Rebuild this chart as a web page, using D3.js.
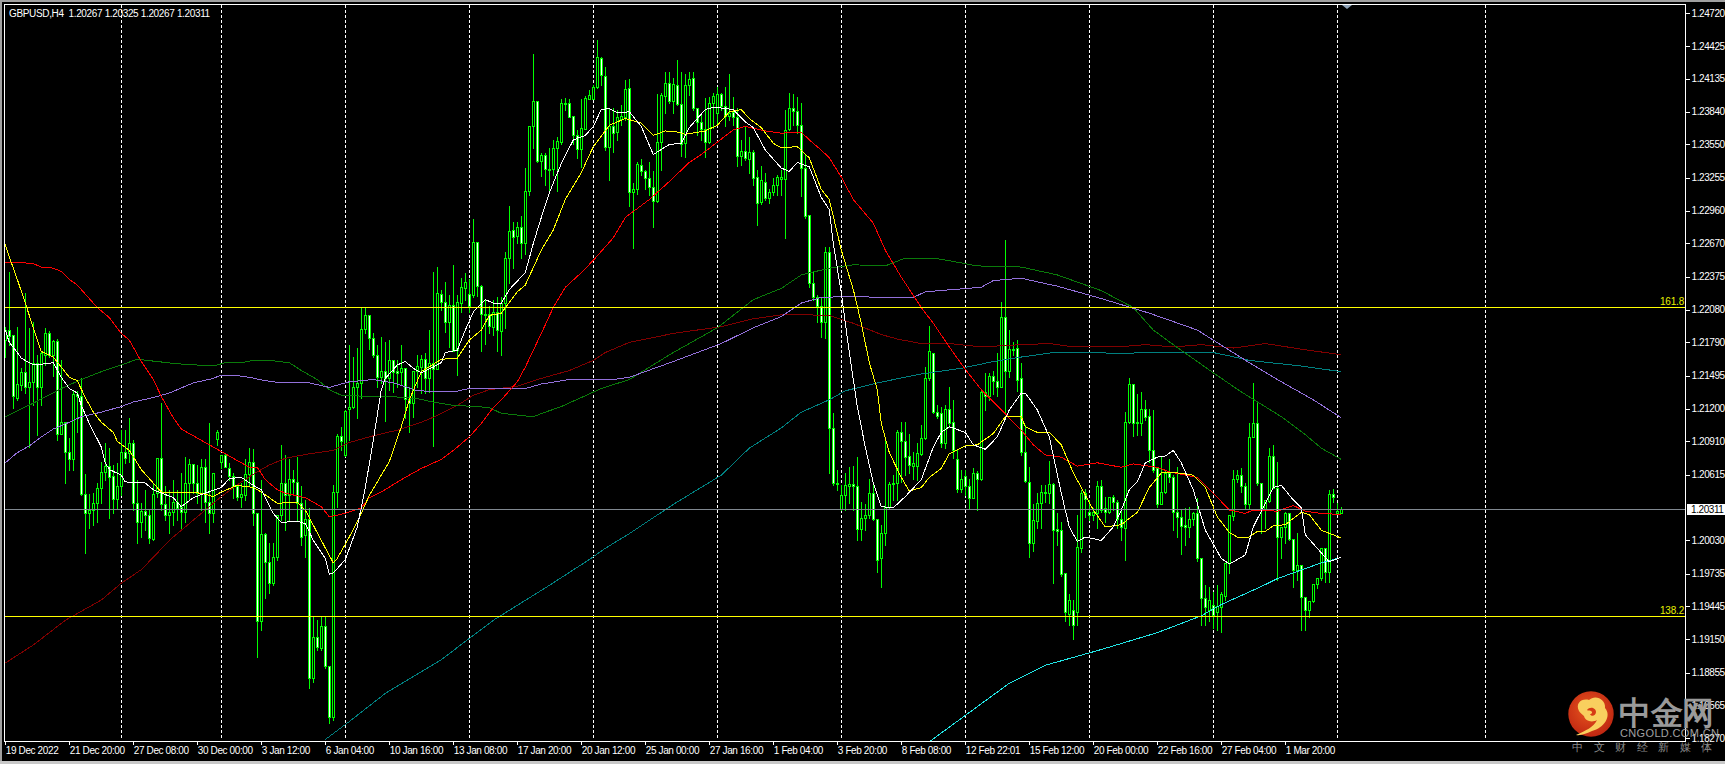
<!DOCTYPE html>
<html><head><meta charset="utf-8">
<script src="https://cdn.jsdelivr.net/npm/d3@7/dist/d3.min.js"></script>
<style>html,body{margin:0;padding:0;background:#000;overflow:hidden}svg{display:block}
text{font-family:"Liberation Sans",Arial,sans-serif}</style></head><body>
<svg id="c" width="1725" height="764"></svg>
<script>
const symbolTitle="GBPUSD,H4  1.20267 1.20325 1.20267 1.20311";
const priceTicks=[1.24720,1.24425,1.24135,1.23840,1.23550,1.23255,1.22960,1.22670,1.22375,1.22080,1.21790,1.21495,1.21200,1.20910,1.20615,1.20030,1.19735,1.19445,1.19150,1.18855,1.18565,1.18270];
const dateLabels=["19 Dec 2022","21 Dec 20:00","27 Dec 08:00","30 Dec 00:00","3 Jan 12:00","6 Jan 04:00","10 Jan 16:00","13 Jan 08:00","17 Jan 20:00","20 Jan 12:00","25 Jan 00:00","27 Jan 16:00","1 Feb 04:00","3 Feb 20:00","8 Feb 08:00","12 Feb 22:01","15 Feb 12:00","20 Feb 00:00","22 Feb 16:00","27 Feb 04:00","1 Mar 20:00"];
const barsPerDateLabel=16;
const separatorBars=[29,54,85,116,147,178,209,240,271,302,333,370];
const lastPrice=1.20311, fib1618=1.22102, fib1382=1.19356;

const opens=[1.2181,1.2190,1.2186,1.2130,1.2141,1.2153,1.2139,1.2144,1.2161,1.2139,1.2168,1.2187,1.2168,1.2180,1.2098,1.2108,1.2082,1.2075,1.2133,1.2131,
1.2044,1.2027,1.2030,1.2036,1.2050,1.2064,1.2069,1.2060,1.2040,1.2051,1.2082,1.2081,1.2090,1.2036,1.2019,1.2029,1.2026,1.2004,1.2045,1.2076,
1.2035,1.2026,1.2028,1.2037,1.2033,1.2028,1.2054,1.2071,1.2054,1.2045,1.2068,1.2037,1.2027,1.2093,1.2073,1.2079,1.2067,1.2060,1.2051,1.2042,
1.2043,1.2062,1.2073,1.2027,1.1931,1.2009,1.1984,1.1965,1.1988,1.2026,1.2054,1.2043,1.2058,1.2055,1.2036,1.2008,1.2022,1.1881,1.1917,1.1907,
1.1927,1.1891,1.1846,1.2046,1.2096,1.2079,1.2120,1.2122,1.2139,1.2143,1.2191,1.2203,1.2183,1.2168,1.2148,1.2154,1.2147,1.2163,1.2154,1.2153,
1.2156,1.2129,1.2125,1.2154,1.2157,1.2164,1.2147,1.2161,1.2155,1.2222,1.2215,1.2197,1.2212,1.2172,1.2214,1.2227,1.2222,1.2221,1.2268,1.2229,
1.2204,1.2204,1.2193,1.2206,1.2189,1.2214,1.2254,1.2279,1.2274,1.2282,1.2267,1.2314,1.2371,1.2394,1.2340,1.2346,1.2333,1.2333,1.2352,1.2357,
1.2392,1.2392,1.2380,1.2363,1.2351,1.2369,1.2395,1.2395,1.2406,1.2432,1.2416,1.2353,1.2371,1.2366,1.2378,1.2379,1.2405,1.2313,1.2315,1.2337,
1.2331,1.2325,1.2317,1.2305,1.2357,1.2398,1.2410,1.2394,1.2408,1.2391,1.2356,1.2408,1.2414,1.2387,1.2375,1.2369,1.2357,1.2392,1.2383,1.2400,
1.2389,1.2380,1.2384,1.2379,1.2345,1.2349,1.2342,1.2348,1.2326,1.2304,1.2322,1.2307,1.2313,1.2319,1.2324,1.2324,1.2369,1.2387,1.2385,1.2372,
1.2334,1.2292,1.2232,1.2219,1.2211,1.2197,1.2259,1.2103,1.2054,1.2031,1.2043,1.2051,1.2053,1.2051,1.2013,1.2023,1.2026,1.2045,1.2022,1.1987,
1.2010,1.2033,1.2053,1.2054,1.2099,1.2091,1.2078,1.2069,1.2069,1.2080,1.2094,1.2147,1.2170,1.2117,1.2116,1.2090,1.2120,1.2108,1.2075,1.2049,
1.2060,1.2051,1.2041,1.2063,1.2058,1.2135,1.2131,1.2149,1.2145,1.2139,1.2202,1.2154,1.2173,1.2174,1.2147,1.2082,1.2055,1.2001,1.2020,1.2036,
1.2046,1.2045,1.2053,1.2013,1.2012,1.1974,1.1938,1.1941,1.1939,1.1996,1.2045,1.2028,1.2026,1.2027,1.2051,1.2032,1.2028,1.2042,1.2037,1.2022,
1.2014,1.2108,1.2142,1.2108,1.2107,1.2120,1.2114,1.2083,1.2067,1.2035,1.2046,1.2063,1.2059,1.2028,1.2024,1.2017,1.2015,1.2022,1.2027,1.1987,
1.1952,1.1941,1.1946,1.1939,1.1944,1.1954,1.1983,1.2025,1.2058,1.2061,1.2051,1.2035,1.2095,1.2107,1.2054,1.2031,1.2038,1.2078,1.2050,1.2006,
1.2015,1.2027,1.2004,1.1977,1.1981,1.1953,1.1941,1.1949,1.1964,1.1970,1.1996,1.1975,1.2044,1.2027,1.2027];
const highs=[1.2193,1.2242,1.2186,1.2193,1.2156,1.2223,1.2192,1.2197,1.2168,1.2171,1.2192,1.2189,1.2181,1.2182,1.2163,1.2108,1.2094,1.2137,1.2136,1.2147,
1.2062,1.2044,1.2045,1.2054,1.2073,1.2090,1.2085,1.2070,1.2072,1.2101,1.2101,1.2112,1.2092,1.2057,1.2036,1.2048,1.2030,1.2054,1.2076,1.2125,
1.2051,1.2048,1.2057,1.2048,1.2063,1.2077,1.2075,1.2071,1.2070,1.2075,1.2075,1.2107,1.2063,1.2101,1.2079,1.2081,1.2072,1.2063,1.2051,1.2054,
1.2075,1.2085,1.2084,1.2027,1.2057,1.2010,1.2001,1.2001,1.2026,1.2088,1.2079,1.2075,1.2066,1.2077,1.2051,1.2039,1.2032,1.1935,1.1932,1.1935,
1.1935,1.1891,1.2052,1.2098,1.2104,1.2119,1.2177,1.2166,1.2174,1.2210,1.2210,1.2203,1.2187,1.2177,1.2184,1.2179,1.2181,1.2163,1.2163,1.2177,
1.2156,1.2139,1.2154,1.2168,1.2168,1.2170,1.2190,1.2242,1.2246,1.2226,1.2233,1.2221,1.2248,1.2221,1.2236,1.2241,1.2235,1.2289,1.2268,1.2230,
1.2217,1.2211,1.2217,1.2219,1.2219,1.2259,1.2300,1.2286,1.2286,1.2291,1.2334,1.2371,1.2435,1.2394,1.2347,1.2347,1.2352,1.2359,1.2362,1.2395,
1.2396,1.2395,1.2380,1.2368,1.2395,1.2398,1.2403,1.2408,1.2448,1.2433,1.2424,1.2387,1.2387,1.2386,1.2390,1.2412,1.2413,1.2321,1.2339,1.2342,
1.2332,1.2339,1.2331,1.2400,1.2401,1.2419,1.2419,1.2414,1.2430,1.2419,1.2418,1.2419,1.2419,1.2387,1.2381,1.2396,1.2397,1.2401,1.2406,1.2401,
1.2406,1.2418,1.2397,1.2387,1.2359,1.2371,1.2362,1.2350,1.2332,1.2336,1.2330,1.2315,1.2325,1.2328,1.2332,1.2386,1.2401,1.2400,1.2397,1.2392,
1.2346,1.2292,1.2242,1.2221,1.2219,1.2264,1.2264,1.2116,1.2066,1.2052,1.2063,1.2068,1.2069,1.2077,1.2037,1.2035,1.2058,1.2055,1.2022,1.2017,
1.2093,1.2055,1.2061,1.2101,1.2108,1.2108,1.2098,1.2082,1.2090,1.2106,1.2157,1.2194,1.2170,1.2123,1.2122,1.2123,1.2139,1.2128,1.2083,1.2066,
1.2066,1.2058,1.2067,1.2065,1.2137,1.2152,1.2152,1.2154,1.2170,1.2215,1.2270,1.2190,1.2179,1.2181,1.2161,1.2106,1.2068,1.2035,1.2045,1.2052,
1.2052,1.2074,1.2054,1.2027,1.2019,1.1974,1.1955,1.1950,1.2026,1.2048,1.2049,1.2039,1.2032,1.2056,1.2057,1.2042,1.2042,1.2043,1.2039,1.2030,
1.2117,1.2147,1.2142,1.2133,1.2135,1.2128,1.2120,1.2119,1.2067,1.2077,1.2066,1.2075,1.2061,1.2068,1.2030,1.2032,1.2033,1.2028,1.2041,1.1987,
1.1963,1.1962,1.1957,1.1963,1.1957,1.1983,1.2026,1.2066,1.2066,1.2067,1.2054,1.2107,1.2143,1.2125,1.2054,1.2039,1.2085,1.2088,1.2073,1.2015,
1.2028,1.2027,1.2004,1.2010,1.1981,1.1953,1.1949,1.1964,1.1970,1.1996,1.1996,1.2048,1.2049,1.2036,1.2033];
const lows=[1.2166,1.2177,1.2121,1.2128,1.2137,1.2134,1.2086,1.2123,1.2097,1.2123,1.2159,1.2166,1.2149,1.2092,1.2098,1.2054,1.2066,1.2066,1.2099,1.2043,
1.1992,1.2014,1.2017,1.2019,1.2036,1.2057,1.2023,1.2027,1.2031,1.2043,1.2072,1.2073,1.2030,1.2001,1.2006,1.2012,1.2001,1.2003,1.2042,1.2030,
1.2021,1.2010,1.2017,1.2021,1.2014,1.2019,1.2039,1.2045,1.2036,1.2030,1.2019,1.2010,1.2019,1.2088,1.2067,1.2068,1.2057,1.2041,1.2039,1.2033,
1.2039,1.2051,1.2017,1.1899,1.1923,1.1952,1.1956,1.1963,1.1986,1.2021,1.2012,1.2021,1.2043,1.2021,1.1999,1.1988,1.1872,1.1877,1.1906,1.1906,
1.1890,1.1841,1.1843,1.2033,1.2083,1.2078,1.2092,1.2121,1.2112,1.2130,1.2187,1.2173,1.2166,1.2139,1.2143,1.2109,1.2137,1.2135,1.2139,1.2141,
1.2112,1.2099,1.2113,1.2139,1.2134,1.2134,1.2135,1.2087,1.2155,1.2208,1.2188,1.2175,1.2171,1.2150,1.2206,1.2217,1.2206,1.2219,1.2220,1.2171,
1.2178,1.2187,1.2186,1.2171,1.2168,1.2192,1.2232,1.2245,1.2267,1.2254,1.2258,1.2310,1.2352,1.2339,1.2327,1.2319,1.2312,1.2328,1.2314,1.2355,
1.2386,1.2379,1.2355,1.2343,1.2335,1.2369,1.2395,1.2395,1.2405,1.2408,1.2350,1.2323,1.2348,1.2359,1.2372,1.2377,1.2300,1.2263,1.2311,1.2328,
1.2315,1.2310,1.2282,1.2304,1.2332,1.2383,1.2392,1.2383,1.2390,1.2345,1.2344,1.2399,1.2386,1.2363,1.2359,1.2344,1.2356,1.2370,1.2372,1.2386,
1.2371,1.2377,1.2372,1.2336,1.2337,1.2341,1.2330,1.2319,1.2283,1.2302,1.2306,1.2303,1.2310,1.2310,1.2310,1.2272,1.2368,1.2372,1.2365,1.2309,
1.2290,1.2228,1.2217,1.2197,1.2184,1.2183,1.2063,1.2052,1.2048,1.2030,1.2030,1.2036,1.2030,1.2003,1.2003,1.2012,1.2023,1.2021,1.1975,1.1962,
1.1999,1.2032,1.2039,1.2039,1.2055,1.2061,1.2063,1.2058,1.2057,1.2079,1.2093,1.2146,1.2116,1.2112,1.2086,1.2085,1.2104,1.2076,1.2046,1.2046,
1.2043,1.2032,1.2041,1.2030,1.2057,1.2119,1.2128,1.2133,1.2131,1.2139,1.2116,1.2148,1.2168,1.2136,1.2079,1.2055,1.1988,1.1994,1.2014,1.2014,
1.2037,1.2036,1.1965,1.1999,1.1971,1.1931,1.1928,1.1915,1.1928,1.1993,1.2024,1.2021,1.2021,1.2014,1.2028,1.2019,1.2027,1.2030,1.2014,1.2003,
1.1986,1.2107,1.2096,1.2097,1.2097,1.2110,1.2073,1.2064,1.2033,1.2035,1.2045,1.2055,1.2012,1.2006,1.1991,1.1999,1.2006,1.2017,1.1985,1.1928,
1.1928,1.1931,1.1925,1.1923,1.1922,1.1950,1.1974,1.2021,1.2055,1.2046,1.2032,1.2032,1.2095,1.2052,1.2010,1.2014,1.2037,1.2050,1.1968,1.1987,
1.2001,1.2003,1.1962,1.1968,1.1923,1.1923,1.1935,1.1948,1.1961,1.1968,1.1966,1.1966,1.2037,1.2027,1.2027];
const closes=[1.2190,1.2185,1.2131,1.2142,1.2153,1.2139,1.2144,1.2161,1.2139,1.2170,1.2187,1.2168,1.2180,1.2098,1.2108,1.2082,1.2075,1.2133,1.2131,1.2044,
1.2027,1.2030,1.2036,1.2050,1.2064,1.2069,1.2059,1.2040,1.2051,1.2082,1.2076,1.2090,1.2036,1.2019,1.2029,1.2026,1.2005,1.2044,1.2076,1.2035,
1.2026,1.2028,1.2037,1.2032,1.2028,1.2054,1.2071,1.2054,1.2045,1.2068,1.2037,1.2027,1.2063,1.2099,1.2079,1.2068,1.2060,1.2051,1.2042,1.2044,
1.2062,1.2073,1.2027,1.1931,1.2009,1.1984,1.1965,1.1988,1.2026,1.2054,1.2043,1.2058,1.2055,1.2036,1.2006,1.2022,1.1881,1.1917,1.1908,1.1927,
1.1891,1.1846,1.2046,1.2096,1.2091,1.2118,1.2122,1.2139,1.2143,1.2191,1.2203,1.2183,1.2168,1.2148,1.2154,1.2147,1.2163,1.2153,1.2152,1.2156,
1.2129,1.2125,1.2154,1.2158,1.2164,1.2147,1.2161,1.2155,1.2223,1.2215,1.2197,1.2212,1.2171,1.2215,1.2228,1.2233,1.2211,1.2268,1.2229,1.2204,
1.2203,1.2194,1.2206,1.2190,1.2214,1.2254,1.2278,1.2273,1.2282,1.2267,1.2314,1.2371,1.2394,1.2340,1.2346,1.2333,1.2332,1.2352,1.2358,1.2392,
1.2391,1.2379,1.2363,1.2351,1.2370,1.2396,1.2399,1.2406,1.2433,1.2417,1.2353,1.2371,1.2365,1.2379,1.2380,1.2404,1.2313,1.2315,1.2338,1.2331,
1.2325,1.2317,1.2305,1.2357,1.2399,1.2410,1.2394,1.2409,1.2391,1.2355,1.2408,1.2413,1.2387,1.2375,1.2369,1.2357,1.2392,1.2398,1.2400,1.2389,
1.2380,1.2383,1.2379,1.2345,1.2349,1.2343,1.2348,1.2325,1.2303,1.2323,1.2307,1.2313,1.2319,1.2326,1.2326,1.2368,1.2387,1.2385,1.2372,1.2334,
1.2291,1.2232,1.2219,1.2211,1.2197,1.2259,1.2103,1.2054,1.2053,1.2043,1.2052,1.2053,1.2051,1.2013,1.2023,1.2026,1.2045,1.2022,1.1986,1.2010,
1.2033,1.2053,1.2054,1.2099,1.2091,1.2077,1.2070,1.2072,1.2081,1.2094,1.2147,1.2171,1.2117,1.2114,1.2090,1.2120,1.2107,1.2083,1.2049,1.2058,
1.2051,1.2041,1.2063,1.2058,1.2135,1.2131,1.2149,1.2145,1.2139,1.2202,1.2154,1.2173,1.2172,1.2146,1.2082,1.2056,1.2001,1.2021,1.2036,1.2046,
1.2045,1.2053,1.2012,1.2011,1.1973,1.1939,1.1950,1.1928,1.1997,1.2045,1.2040,1.2026,1.2028,1.2051,1.2030,1.2028,1.2042,1.2037,1.2022,1.2015,
1.2108,1.2142,1.2107,1.2107,1.2120,1.2113,1.2083,1.2066,1.2035,1.2046,1.2063,1.2059,1.2028,1.2024,1.2016,1.2015,1.2022,1.2027,1.1987,1.1952,
1.1944,1.1950,1.1937,1.1945,1.1955,1.1983,1.2026,1.2058,1.2061,1.2051,1.2035,1.2095,1.2107,1.2054,1.2031,1.2039,1.2078,1.2050,1.2006,1.2015,
1.2027,1.2004,1.1977,1.1981,1.1953,1.1941,1.1949,1.1964,1.1970,1.1996,1.1975,1.2044,1.2042,1.2029,1.2031];

const redBars=[0,4,7,9,12,14,16,18,21,23,26,29,31,34,37,39,42,44,49,54,57,61,63,65,68,70,75,79,81,85,89,91,94,99,104,109,112,116,119,122,124,128,130,134,137,140,144,147,152,155,161,166,171,174,178,182,185,190,194,199,201,204,206,209,212,217,220,224,229,232,236,240,244,249,254,257,260,264,268,273,279,282,288,291,298,302,306,310,312,318,322,325,329,334];
const redVals=[1.2250,1.2250,1.2249,1.2246,1.2245,1.2242,1.2235,1.2230,1.2218,1.2210,1.2201,1.2187,1.2181,1.2162,1.2146,1.2131,1.2112,1.2102,1.2092,1.2082,1.2076,1.2068,1.2068,1.2057,1.2048,1.2045,1.2041,1.2033,1.2024,1.2027,1.2032,1.2041,1.2046,1.2057,1.2067,1.2075,1.2083,1.2095,1.2107,1.2121,1.2128,1.2144,1.2157,1.2187,1.2210,1.2228,1.2241,1.2252,1.2272,1.2290,1.2306,1.2322,1.2339,1.2346,1.2357,1.2368,1.2371,1.2367,1.2365,1.2366,1.2359,1.2350,1.2343,1.2326,1.2306,1.2285,1.2261,1.2237,1.2210,1.2196,1.2175,1.2155,1.2137,1.2119,1.2101,1.2088,1.2079,1.2077,1.2069,1.2072,1.2068,1.2071,1.2068,1.2064,1.2059,1.2045,1.2030,1.2027,1.2030,1.2029,1.2034,1.2029,1.2027,1.2026];
const whiteBars=[0,1,3,4,7,10,12,14,16,18,19,21,24,25,26,29,30,35,37,42,44,47,50,54,56,59,62,64,67,69,73,75,77,80,81,82,85,88,90,92,94,95,98,100,102,104,109,110,113,115,117,120,122,124,126,130,132,134,136,139,142,145,147,149,151,153,156,159,162,166,169,171,175,177,180,182,185,187,190,194,196,198,201,204,206,207,209,211,213,215,217,219,222,225,229,232,234,236,240,242,245,248,251,254,255,258,261,264,266,268,270,274,277,279,281,283,285,288,290,292,294,297,300,304,306,310,312,315,317,319,322,324,325,329,331,334];
const whiteVals=[1.2190,1.2179,1.2170,1.2165,1.2159,1.2160,1.2161,1.2148,1.2138,1.2134,1.2123,1.2107,1.2086,1.2072,1.2066,1.2061,1.2055,1.2054,1.2048,1.2041,1.2033,1.2041,1.2045,1.2050,1.2058,1.2059,1.2052,1.2048,1.2027,1.2019,1.2020,1.2018,1.2003,1.1987,1.1973,1.1974,1.1986,1.2015,1.2050,1.2092,1.2137,1.2147,1.2159,1.2162,1.2156,1.2152,1.2161,1.2170,1.2172,1.2190,1.2206,1.2217,1.2214,1.2214,1.2226,1.2241,1.2267,1.2290,1.2312,1.2338,1.2359,1.2363,1.2371,1.2386,1.2387,1.2383,1.2384,1.2371,1.2346,1.2355,1.2356,1.2370,1.2386,1.2388,1.2387,1.2386,1.2375,1.2370,1.2350,1.2334,1.2331,1.2339,1.2335,1.2308,1.2297,1.2267,1.2223,1.2170,1.2122,1.2086,1.2054,1.2033,1.2032,1.2042,1.2057,1.2086,1.2099,1.2104,1.2099,1.2088,1.2084,1.2095,1.2119,1.2134,1.2134,1.2119,1.2095,1.2045,1.2015,1.2002,1.2006,1.2003,1.2015,1.2030,1.2048,1.2055,1.2072,1.2077,1.2078,1.2083,1.2072,1.2048,1.2012,1.1987,1.1982,1.1990,1.2015,1.2036,1.2050,1.2052,1.2039,1.2032,1.2008,1.1992,1.1984,1.1988];
const yellowBars=[0,1,3,5,7,9,12,14,16,18,20,22,24,27,28,31,34,37,39,44,49,52,54,58,62,64,68,73,75,79,82,83,86,89,91,96,99,101,104,109,113,116,119,121,124,128,130,134,137,140,144,147,151,155,159,162,165,168,170,175,178,181,184,186,189,192,194,198,201,204,206,209,212,214,216,218,219,221,224,226,229,231,234,236,240,243,247,250,254,255,258,261,264,267,269,272,275,279,283,286,289,293,297,300,303,306,308,311,313,315,317,320,324,326,329,332,334];
const yellowVals=[1.2266,1.2255,1.2235,1.2214,1.2192,1.2171,1.2166,1.2157,1.2148,1.2145,1.2130,1.2117,1.2108,1.2099,1.2091,1.2083,1.2066,1.2054,1.2046,1.2046,1.2045,1.2042,1.2046,1.2052,1.2050,1.2046,1.2036,1.2037,1.2030,1.2003,1.1983,1.1987,1.2006,1.2027,1.2043,1.2073,1.2104,1.2128,1.2153,1.2164,1.2165,1.2181,1.2190,1.2203,1.2205,1.2224,1.2230,1.2261,1.2279,1.2306,1.2330,1.2353,1.2372,1.2378,1.2374,1.2363,1.2367,1.2366,1.2364,1.2367,1.2372,1.2384,1.2386,1.2378,1.2370,1.2356,1.2352,1.2353,1.2343,1.2315,1.2306,1.2261,1.2226,1.2196,1.2161,1.2137,1.2107,1.2081,1.2059,1.2047,1.2050,1.2059,1.2067,1.2080,1.2087,1.2088,1.2098,1.2113,1.2113,1.2104,1.2099,1.2099,1.2088,1.2063,1.2050,1.2030,1.2015,1.2017,1.2028,1.2050,1.2063,1.2063,1.2061,1.2050,1.2024,1.2010,1.2006,1.2006,1.2011,1.2011,1.2016,1.2017,1.2028,1.2026,1.2012,1.2008,1.2005];
const greenBars=[0,7,14,19,24,29,33,38,43,52,55,59,62,66,71,74,78,81,84,91,96,103,107,112,118,121,124,129,132,135,139,144,149,156,167,178,187,194,199,206,212,220,225,232,237,243,254,263,274,282,287,292,302,309,319,325,329,334];
const greenVals=[1.2113,1.2125,1.2138,1.2146,1.2153,1.2159,1.2164,1.2162,1.2160,1.2158,1.2161,1.2161,1.2163,1.2163,1.2161,1.2154,1.2146,1.2137,1.2132,1.2131,1.2131,1.2129,1.2126,1.2123,1.2122,1.2121,1.2116,1.2114,1.2113,1.2117,1.2122,1.2130,1.2138,1.2146,1.2170,1.2192,1.2217,1.2227,1.2239,1.2245,1.2248,1.2247,1.2254,1.2254,1.2251,1.2247,1.2246,1.2239,1.2225,1.2210,1.2190,1.2177,1.2152,1.2135,1.2113,1.2097,1.2085,1.2075];
const purpleBars=[0,3,6,9,12,16,19,24,29,32,37,41,47,52,54,57,61,65,69,76,81,86,92,97,103,112,116,130,134,141,147,152,156,167,179,187,194,199,204,212,218,227,230,237,244,247,254,263,274,286,298,302,311,318,327,334];
const purpleVals=[1.2072,1.2081,1.2087,1.2095,1.2102,1.2108,1.2113,1.2117,1.2122,1.2126,1.2130,1.2134,1.2143,1.2147,1.2150,1.2150,1.2148,1.2145,1.2143,1.2143,1.2139,1.2144,1.2146,1.2143,1.2136,1.2135,1.2138,1.2138,1.2142,1.2146,1.2146,1.2146,1.2148,1.2162,1.2178,1.2192,1.2202,1.2214,1.2219,1.2220,1.2219,1.2219,1.2224,1.2226,1.2228,1.2234,1.2236,1.2229,1.2218,1.2205,1.2190,1.2181,1.2161,1.2146,1.2128,1.2112];
const maroonBars=[0,7,15,24,29,34,37,41,48,54,59,63,66,70,76,82,86,92,98,104,108,113,117,121,128,133,141,147,150,156,167,179,187,195,206,212,219,223,229,236,244,254,261,267,278,285,292,299,307,315,324,334];
const maroonVals=[1.1894,1.1910,1.1932,1.1950,1.1965,1.1977,1.1988,1.2003,1.2024,1.2042,1.2055,1.2064,1.2070,1.2076,1.2080,1.2083,1.2090,1.2096,1.2101,1.2108,1.2114,1.2123,1.2132,1.2137,1.2140,1.2146,1.2154,1.2163,1.2170,1.2179,1.2187,1.2193,1.2200,1.2204,1.2203,1.2196,1.2186,1.2182,1.2178,1.2178,1.2175,1.2177,1.2178,1.2175,1.2175,1.2177,1.2175,1.2177,1.2174,1.2178,1.2173,1.2168];
const tealBars=[80,86,95,109,122,136,146,150,156,167,179,186,194,199,206,210,218,229,239,247,254,262,274,277,286,294,302,306,311,324,334];
const tealVals=[1.1826,1.1842,1.1867,1.1897,1.1932,1.1963,1.1986,1.1996,1.2009,1.2035,1.2061,1.2085,1.2103,1.2117,1.2128,1.2136,1.2143,1.2151,1.2156,1.2162,1.2166,1.2170,1.2170,1.2169,1.2170,1.2170,1.2170,1.2167,1.2163,1.2158,1.2153];
const cyanBars=[231,246,251,260,274,288,299,304,314,318,325,329,334];
const cyanVals=[1.1824,1.1863,1.1876,1.1892,1.1906,1.1921,1.1936,1.1946,1.1962,1.1969,1.1978,1.1983,1.1988];

const W=1725,H=764, plotL=4.5, plotT=4.5, plotR=1685.5, plotB=741.5;
const svg=d3.select("#c");
const x=d3.scaleLinear().domain([0,1]).range([5.3,9.3]);
const y=d3.scaleLinear().domain([1.24720,1.18270]).range([12.8,738.4]);
const px=i=>Math.floor(x(i));
const py=v=>Math.round(y(v));

svg.append("rect").attr("width",W).attr("height",H).attr("fill","#000");
// window chrome
const chrome=svg.append("g").attr("fill","#a0a0a0");
chrome.append("rect").attr("width",W).attr("height",2);
chrome.append("rect").attr("width",2).attr("height",H);
chrome.append("rect").attr("y",761).attr("width",W).attr("height",3).attr("fill","#c8c8c8");

const defs=svg.append("defs");
defs.append("clipPath").attr("id","plot").append("rect").attr("x",plotL).attr("y",plotT).attr("width",plotR-plotL).attr("height",plotB-plotT);
const plot=svg.append("g").attr("clip-path","url(#plot)");

// period separators
plot.append("g").selectAll("line").data(separatorBars).join("line")
 .attr("x1",d=>px(d)+.5).attr("x2",d=>px(d)+.5).attr("y1",5).attr("y2",739)
 .attr("stroke","#fff").attr("stroke-dasharray","3,2").attr("shape-rendering","crispEdges");

// candles
const idx=d3.range(closes.length);
const cg=plot.append("g").attr("shape-rendering","crispEdges");
cg.selectAll("line").data(idx).join("line")
 .attr("x1",i=>px(i)+.5).attr("x2",i=>px(i)+.5)
 .attr("y1",i=>py(highs[i])).attr("y2",i=>py(lows[i])+1).attr("stroke","#00ff00");
cg.selectAll("rect").data(idx).join("rect")
 .attr("x",i=>px(i)-.5).attr("width",2)
 .attr("y",i=>py(Math.max(opens[i],closes[i]))+.5)
 .attr("height",i=>Math.max(1,py(Math.min(opens[i],closes[i]))-py(Math.max(opens[i],closes[i]))))
 .attr("fill",i=>closes[i]<opens[i]?"#fff":"#000").attr("stroke","#00ff00");

// moving averages
const mk=(bars,vals,color)=>{
 const line=d3.line().x((d,k)=>x(bars[k])).y(d=>y(d));
 plot.append("path").attr("d",line(vals)).attr("fill","none").attr("stroke",color).attr("stroke-width",1).attr("shape-rendering","crispEdges");
};
mk(maroonBars,maroonVals,"#800000");
mk(tealBars,tealVals,"#008080");
mk(cyanBars,cyanVals,"#22e6e6");
mk(greenBars,greenVals,"#0a7a0a");
mk(purpleBars,purpleVals,"#9370db");
mk(redBars,redVals,"#ff0000");
mk(yellowBars,yellowVals,"#ffff00");
mk(whiteBars,whiteVals,"#ffffff");

// horizontal objects
const hline=(v,color)=>plot.append("line").attr("x1",plotL).attr("x2",plotR).attr("y1",py(v)+.5).attr("y2",py(v)+.5).attr("stroke",color).attr("shape-rendering","crispEdges");
hline(lastPrice,"#808890");
hline(fib1618,"#ffff00");
hline(fib1382,"#ffff00");
const fibLabel=(v,t)=>svg.append("text").attr("x",1684).attr("y",py(v)-2.5).attr("text-anchor","end").attr("fill","#e6f000").attr("font-size",10).attr("letter-spacing",-.2).text(t);
fibLabel(fib1618,"161.8");
fibLabel(fib1382,"138.2");

// frame
svg.append("rect").attr("x",plotL).attr("y",plotT).attr("width",plotR-plotL).attr("height",plotB-plotT)
 .attr("fill","none").attr("stroke","#fff").attr("shape-rendering","crispEdges");

// axes
const yAxis=d3.axisRight(y).tickValues(priceTicks).tickFormat(d3.format(".5f")).tickSize(4).tickPadding(2);
const ga=svg.append("g").attr("transform",`translate(${plotR},0)`).call(yAxis);
ga.select(".domain").remove();
ga.selectAll("line").attr("stroke","#fff").attr("shape-rendering","crispEdges");
ga.selectAll("text").attr("fill","#fff").attr("font-size",10).attr("letter-spacing",-.42).attr("font-family",'"Liberation Sans"');

const dateBars=dateLabels.map((d,i)=>i*barsPerDateLabel);
const xAxis=d3.axisBottom(x).tickValues(dateBars).tickFormat((d,i)=>dateLabels[i]).tickSize(3).tickPadding(2);
const gx=svg.append("g").attr("transform",`translate(0,${plotB})`).call(xAxis);
gx.select(".domain").remove();
gx.selectAll("line").attr("stroke","#fff").attr("shape-rendering","crispEdges");
gx.selectAll("text").attr("fill","#fff").attr("font-size",10).attr("text-anchor","start").attr("letter-spacing",-.38).attr("font-family",'"Liberation Sans"');

// last price tag
svg.append("rect").attr("x",1687).attr("y",py(lastPrice)-5).attr("width",38).attr("height",11).attr("fill","#fff");
svg.append("text").attr("x",1691).attr("y",py(lastPrice)+4).attr("fill","#000").attr("font-size",10).attr("letter-spacing",-.42).text(d3.format(".5f")(lastPrice));

// title
svg.append("text").attr("x",9).attr("y",16.5).attr("fill","#fff").attr("font-size",10).attr("letter-spacing",-.35).attr("xml:space","preserve").style("white-space","pre").text(symbolTitle);

// chart-shift marker
svg.append("path").attr("d","M1342 5L1352 5L1347 9Z").attr("fill","#8fa3b8");

// watermark
const grad=defs.append("radialGradient").attr("id","logo").attr("cx","45%").attr("cy","40%").attr("r","70%");
grad.append("stop").attr("offset","0").attr("stop-color","#e8551f");
grad.append("stop").attr("offset","1").attr("stop-color","#b9200f");
svg.append("circle").attr("cx",1591).attr("cy",714).attr("r",22.7).attr("fill","url(#logo)");
svg.append("path").attr("d","M1579 711C1575 703 1582 698 1589 700C1595 694 1606 699 1605 708C1612 716 1604 728 1592 731C1587 733 1581 736 1576 735C1585 731 1594 727 1597 720C1592 723 1585 721 1584 716C1582 714 1580 713 1579 711Z").attr("fill","#f9cf5e");
svg.append("path").attr("d","M1587 710C1590 706 1596 708 1596 712C1596 716 1591 717 1590 714C1592 714 1593 712 1591 711C1589 710 1588 711 1587 710Z").attr("fill","#d63a14");
const wm=svg.append("g").attr("font-family",'"Noto Sans CJK SC"');
wm.append("text").attr("x",1619).attr("y",724).attr("font-size",32).attr("font-weight",700).attr("fill","#9a9a9a").attr("letter-spacing",-.5).text("中金网");
wm.append("text").attr("x",1620).attr("y",737).attr("font-size",11).attr("fill","#a0a0a0").attr("font-family",'"Liberation Sans"').attr("letter-spacing",.35).text("CNGOLD.COM.CN");
wm.append("text").attr("x",1572).attr("y",751).attr("font-size",11).attr("fill","#8c8c8c").attr("letter-spacing",10.5).text("中文财经新媒体");
</script></body></html>
